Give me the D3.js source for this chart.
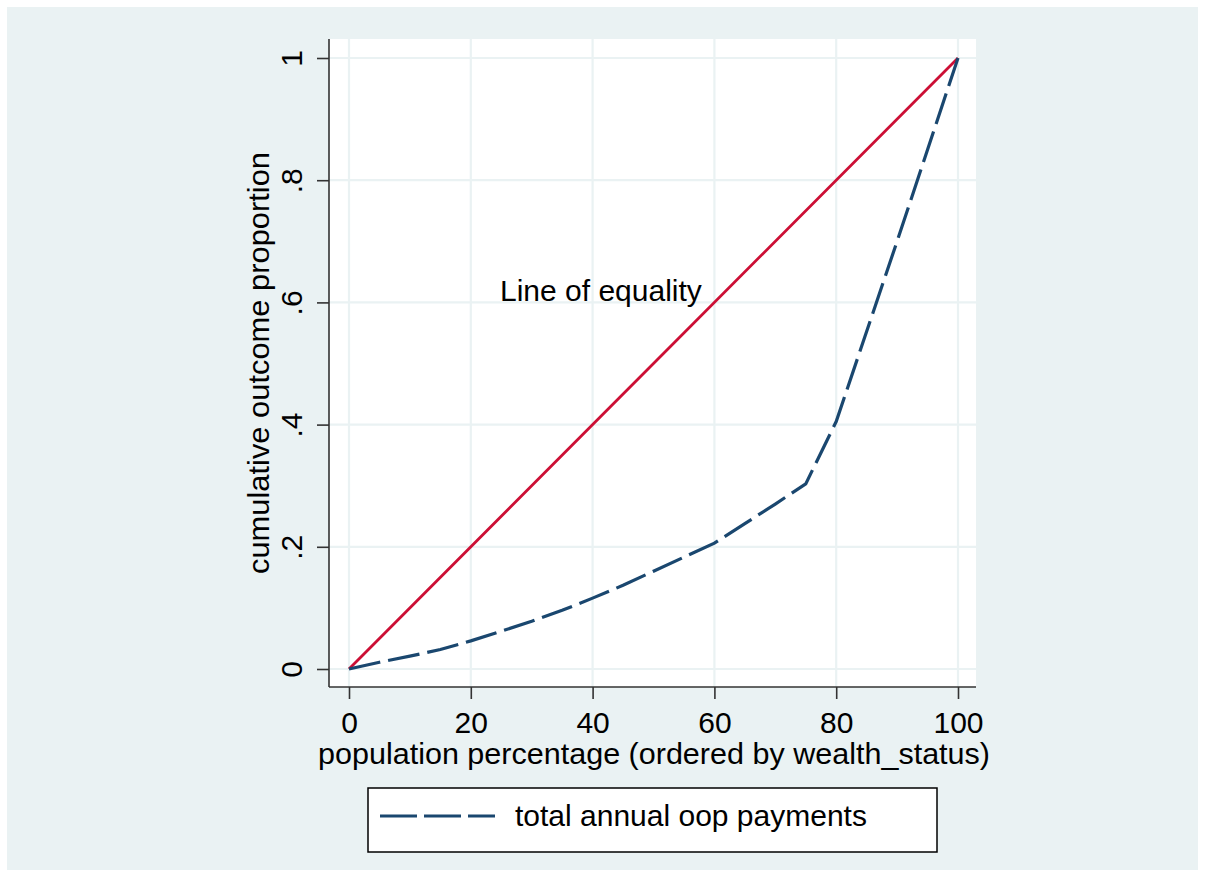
<!DOCTYPE html>
<html>
<head>
<meta charset="utf-8">
<script src="https://cdn.jsdelivr.net/npm/d3@7"></script>
<style>
  html, body { margin: 0; padding: 0; background: #ffffff; }
  svg { display: block; }
  text { font-family: "Liberation Sans", Arial, sans-serif; fill: #000; }
</style>
</head>
<body>
<svg id="chart" width="1205" height="877"></svg>
<script>
// ---- data ----
const xTickValues = [0, 20, 40, 60, 80, 100];
const xTickLabels = ["0", "20", "40", "60", "80", "100"];
const yTickValues = [0, 0.2, 0.4, 0.6, 0.8, 1];
const yTickLabels = ["0", ".2", ".4", ".6", ".8", "1"];

const popPct   = [0, 5, 10, 15, 20, 25, 30, 35, 40, 45, 50, 55, 60, 65, 70, 75, 80, 90, 100];
const oopShare = [0, 0.011, 0.021, 0.032, 0.046, 0.062, 0.078, 0.096, 0.116, 0.137, 0.160, 0.183, 0.206, 0.238, 0.270, 0.303, 0.405, 0.70, 1.0];

const equalityX = [0, 50, 100];
const equalityY = [0, 0.5, 1];

const xTitle = "population percentage (ordered by wealth_status)";
const yTitle = "cumulative outcome proportion";
const seriesName = "total annual oop payments";
const equalityLabel = "Line of equality";

// ---- layout ----
const W = 1205, H = 877;
const svg = d3.select("#chart");
const bg = "#EAF2F3";
const navy = "#1A476F";
const red = "#CC0F35";

// outer background
svg.append("rect").attr("x", 7).attr("y", 7).attr("width", W - 14).attr("height", H - 14).attr("fill", bg);

const plot = { left: 329, right: 976, top: 39, bottom: 687 };
svg.append("rect").attr("x", plot.left).attr("y", plot.top)
  .attr("width", plot.right - plot.left).attr("height", plot.bottom - plot.top).attr("fill", "#fff");

const x = d3.scaleLinear().domain([0, 100]).range([349, 958]);
const y = d3.scaleLinear().domain([0, 1]).range([669, 58]);

// gridlines
const grid = svg.append("g");
grid.selectAll("line.vg").data(xTickValues).enter().append("line")
  .attr("x1", d => x(d)).attr("x2", d => x(d)).attr("y1", plot.top).attr("y2", plot.bottom)
  .attr("stroke", bg).attr("stroke-width", 2.2);
grid.selectAll("line.hg").data(yTickValues).enter().append("line")
  .attr("y1", d => y(d)).attr("y2", d => y(d)).attr("x1", plot.left).attr("x2", plot.right)
  .attr("stroke", bg).attr("stroke-width", 2.2);

// axes via d3
const xAxis = d3.axisBottom(x).tickValues(xTickValues).tickSize(12).tickFormat((d, i) => xTickLabels[i]);
const gx = svg.append("g").attr("transform", `translate(0,${plot.bottom})`).call(xAxis);
gx.select(".domain").remove();
gx.selectAll(".tick line").attr("stroke", "#333").attr("stroke-width", 1.6);
gx.selectAll(".tick text").attr("font-size", 30).attr("font-family", "Liberation Sans, Arial, sans-serif")
  .attr("fill", "#000").attr("dy", null)
  .attr("y", 733 - plot.bottom);
svg.append("line").attr("x1", plot.left).attr("x2", plot.right).attr("y1", plot.bottom).attr("y2", plot.bottom)
  .attr("stroke", "#333").attr("stroke-width", 1.6);

const yAxis = d3.axisLeft(y).tickValues(yTickValues).tickSize(12).tickFormat((d, i) => yTickLabels[i]);
const gy = svg.append("g").attr("transform", `translate(${plot.left},0)`).call(yAxis);
gy.select(".domain").remove();
gy.selectAll(".tick line").attr("stroke", "#333").attr("stroke-width", 1.6);
gy.selectAll(".tick text").attr("font-size", 30).attr("font-family", "Liberation Sans, Arial, sans-serif")
  .attr("fill", "#000").attr("x", null).attr("dy", null).attr("y", null)
  .attr("text-anchor", "middle")
  .attr("transform", `translate(${302 - plot.left},0) rotate(-90)`);
svg.append("line").attr("x1", plot.left).attr("x2", plot.left).attr("y1", plot.top).attr("y2", plot.bottom)
  .attr("stroke", "#333").attr("stroke-width", 1.6);

// series
const line = d3.line().x(d => x(d[0])).y(d => y(d[1]));
svg.append("path").datum(d3.zip(equalityX, equalityY)).attr("d", line)
  .attr("fill", "none").attr("stroke", red).attr("stroke-width", 2.8);
svg.append("path").datum(d3.zip(popPct, oopShare)).attr("d", line)
  .attr("fill", "none").attr("stroke", navy).attr("stroke-width", 3.2)
  .attr("stroke-dasharray", "32,8");

// label
svg.append("text").attr("x", 500).attr("y", 301).attr("font-size", 30).text(equalityLabel);

// axis titles
svg.append("text").attr("x", (318 + 990) / 2).attr("y", 764).attr("text-anchor", "middle")
  .attr("font-size", 30).attr("textLength", 672).attr("lengthAdjust", "spacingAndGlyphs").text(xTitle);
svg.append("text").attr("transform", `translate(269,${(plot.top + plot.bottom) / 2}) rotate(-90)`)
  .attr("text-anchor", "middle").attr("font-size", 30)
  .attr("textLength", 422).attr("lengthAdjust", "spacingAndGlyphs").text(yTitle);

// legend
const leg = svg.append("g");
leg.append("rect").attr("x", 368).attr("y", 788).attr("width", 569).attr("height", 64)
  .attr("fill", "#fff").attr("stroke", "#000").attr("stroke-width", 1.5);
leg.append("line").attr("x1", 380).attr("x2", 495).attr("y1", 816).attr("y2", 816)
  .attr("stroke", navy).attr("stroke-width", 3).attr("stroke-dasharray", "37,7");
leg.append("text").attr("x", 515).attr("y", 826).attr("font-size", 30).text(seriesName);
</script>
</body>
</html>
